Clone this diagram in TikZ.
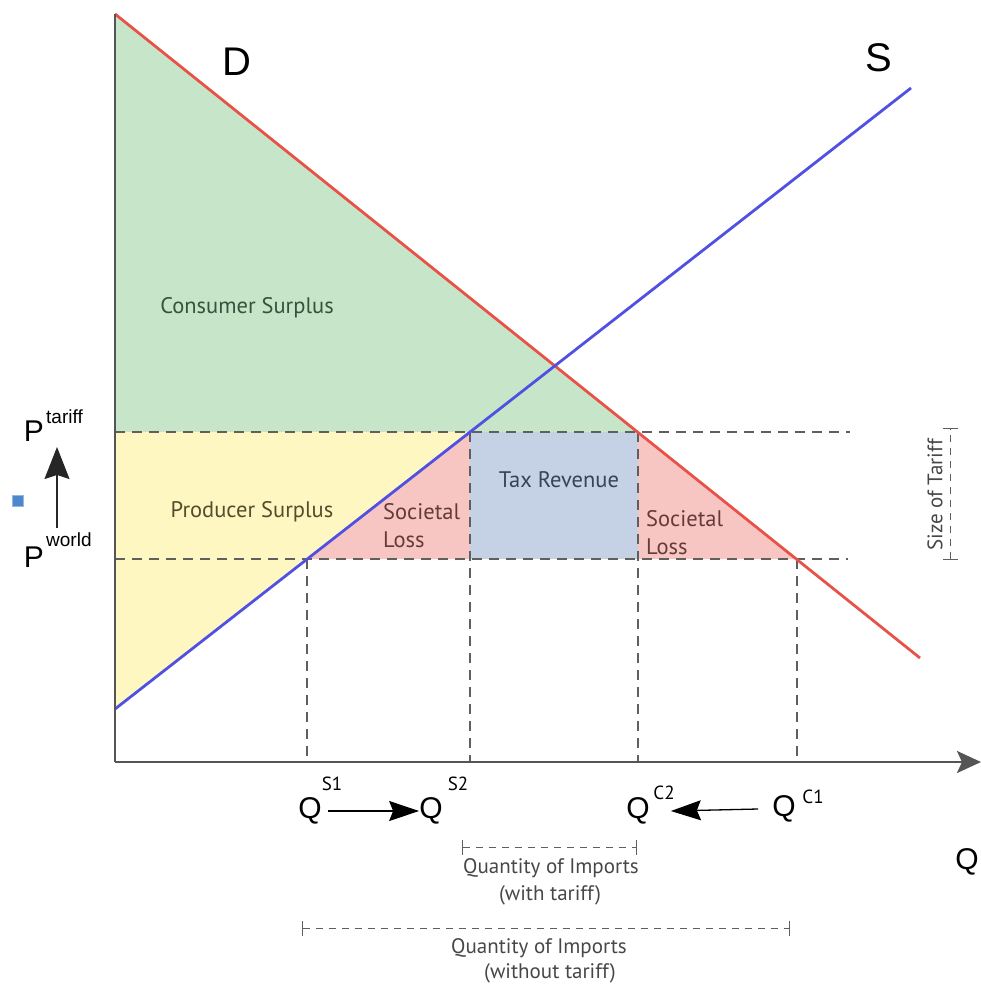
\documentclass[tikz,border=0pt]{standalone}
\usepackage{fontspec}
\setmainfont{Liberation Sans}
\newfontfamily\lblfont{PT Sans}
\usetikzlibrary{arrows.meta}
\definecolor{csgreen}{RGB}{199,230,201}
\definecolor{psyellow}{RGB}{255,247,194}
\definecolor{slpink}{RGB}{248,198,194}
\definecolor{trblue}{RGB}{197,209,228}
\definecolor{dred}{RGB}{232,82,72}
\definecolor{sblue}{RGB}{80,80,226}
\definecolor{axgray}{RGB}{85,85,85}
\definecolor{dashgray}{RGB}{95,95,95}
\definecolor{sqblue}{RGB}{78,136,204}
\tikzset{
  guide/.style={draw=dashgray, line width=1.5pt, dash pattern=on 10pt off 7pt},
  measure/.style={draw=dashgray, line width=1pt, dash pattern=on 7pt off 6pt, {Bar[width=15pt,line width=1pt]}-{Bar[width=15pt,line width=1pt]}},
  curveD/.style={draw=dred, line width=2.8pt},
  curveS/.style={draw=sblue, line width=2.8pt},
  bigarrow/.style={draw=black, line width=1.3pt, -{Stealth[length=30pt,width=20pt,inset=4pt]}},
  lbl/.style={font=\lblfont\fontsize{22.5}{28}\selectfont, inner sep=0pt},
  smalllbl/.style={font=\lblfont\fontsize{21}{26}\selectfont, text=black!72, inner sep=0pt},
  bigletter/.style={font=\fontsize{40}{40}\selectfont, inner sep=0pt},
  qletter/.style={font=\fontsize{30}{30}\selectfont, inner sep=0pt},
  supq/.style={font=\lblfont\fontsize{19}{19}\selectfont, inner sep=0pt},
  supp/.style={font=\fontsize{19}{19}\selectfont, inner sep=0pt}
}
\begin{document}
\begin{tikzpicture}[x=1pt,y=-1pt]
\useasboundingbox (0,0) rectangle (981,985);
% key points
\coordinate (O) at (115,762);
\coordinate (Ytop) at (115,14);
\coordinate (Xend) at (981,762);
\coordinate (Dtop) at (115,14);
\coordinate (Dend) at (920,658);
\coordinate (Sbot) at (115,709);
\coordinate (Send) at (911,88);
\coordinate (Pt0) at (115,432);
\coordinate (Pw0) at (115,559);
\coordinate (A) at (307,559);
\coordinate (B) at (470,432);
\coordinate (Bw) at (470,559);
\coordinate (C) at (638,432);
\coordinate (Cw) at (638,559);
\coordinate (E) at (797,559);
\coordinate (PtEnd) at (850,432);
\coordinate (PwEnd) at (848,559);
\coordinate (Ax) at (307,762);
\coordinate (Bx) at (470,762);
\coordinate (Cx) at (638,762);
\coordinate (Ex) at (797,762);
% areas
\fill[csgreen] (Dtop) -- (C) -- (Pt0) -- cycle;
\fill[psyellow] (Pt0) -- (B) -- (Sbot) -- cycle;
\fill[slpink] (A) -- (B) -- (Bw) -- cycle;
\fill[trblue] (B) -- (C) -- (Cw) -- (Bw) -- cycle;
\fill[slpink] (C) -- (E) -- (Cw) -- cycle;
% guides
\draw[guide] (Pt0) -- (PtEnd);
\draw[guide] (Pw0) -- (PwEnd);
\draw[guide] (A) -- (Ax);
\draw[guide] (B) -- (Bx);
\draw[guide] (C) -- (Cx);
\draw[guide] (E) -- (Ex);
% curves
\draw[curveD] (Dtop) -- (Dend);
\draw[curveS] (Sbot) -- (Send);
% axes
\draw[draw=axgray, line width=2.4pt] (O) -- (Ytop);
\draw[draw=axgray, line width=2.4pt, -{Stealth[length=24pt,width=22pt,inset=5pt]}] (O) -- (Xend);
% area labels
\node[lbl, text={rgb,255:red,55;green,82;blue,62}] (cs) at (247,308) {Consumer Surplus};
\node[lbl, text={rgb,255:red,82;green,78;blue,45}] (ps) at (252,512) {Producer Surplus};
\node[lbl, text={rgb,255:red,100;green,58;blue,58}, anchor=west, align=left] (sl1) at (383,526) {Societal\\Loss};
\node[lbl, text={rgb,255:red,58;green,66;blue,88}] (tr) at (559,480) {Tax Revenue};
\node[lbl, text={rgb,255:red,100;green,58;blue,58}, anchor=west, align=left] (sl2) at (646,533) {Societal\\Loss};
% curve labels
\node[bigletter] (dl) at (237,62) {D};
\node[bigletter] (sl) at (879,58) {S};
% price labels
\node[qletter] (pt) at (34,431) {P};
\node[supp, anchor=west] (pts) at (46,417) {tariff};
\node[qletter] (pw) at (34,557) {P};
\node[supp, anchor=west] (pws) at (46,540) {world};
\coordinate (parrtail) at (57,528);
\coordinate (parrtip) at (57,447);
\draw[draw=black!85, line width=1.3pt, -{Stealth[length=32pt,width=25pt,inset=4pt]}] (parrtail) -- (parrtip);
\node[draw={rgb,255:red,150;green,185;blue,225}, fill=sqblue, minimum size=11pt, inner sep=0pt, line width=0.8pt] (sq) at (17.5,501) {};
% size of tariff
\node[smalllbl, rotate=90] (sot) at (935,495) {Size of Tariff};
\coordinate (sotTop) at (950,428);
\coordinate (sotBot) at (950,560);
\draw[measure] (sotBot) -- (sotTop);
% quantity labels
\node[qletter] (qs1) at (310,811) {Q};
\node[supq] (qs1s) at (332,784) {S1};
\node[qletter] (qs2) at (431,811) {Q};
\node[supq] (qs2s) at (458,784) {S2};
\node[qletter] (qc2) at (638,811) {Q};
\node[supq] (qc2s) at (664,793) {C2};
\node[qletter] (qc1) at (784,809) {Q};
\node[supq] (qc1s) at (813,797) {C1};
\draw[bigarrow] ([xshift=6pt]qs1.east) -- (qs2.west);
\draw[bigarrow] ([xshift=-14pt]qc1.west) -- ([xshift=21pt]qc2.east);
\node[qletter] (qax) at (967,862) {Q};
% imports
\coordinate (iw1) at (462,847);
\coordinate (iw2) at (637,847);
\draw[measure] (iw1) -- (iw2);
\node[smalllbl] (qiwa) at (551,868) {Quantity of Imports};
\node[smalllbl] (qiwb) at (550,895) {(with tariff)};
\coordinate (io1) at (302,928);
\coordinate (io2) at (790,928);
\draw[measure] (io1) -- (io2);
\node[smalllbl] (qioa) at (539,948) {Quantity of Imports};
\node[smalllbl] (qiob) at (550,973) {(without tariff)};
\end{tikzpicture}
\end{document}
